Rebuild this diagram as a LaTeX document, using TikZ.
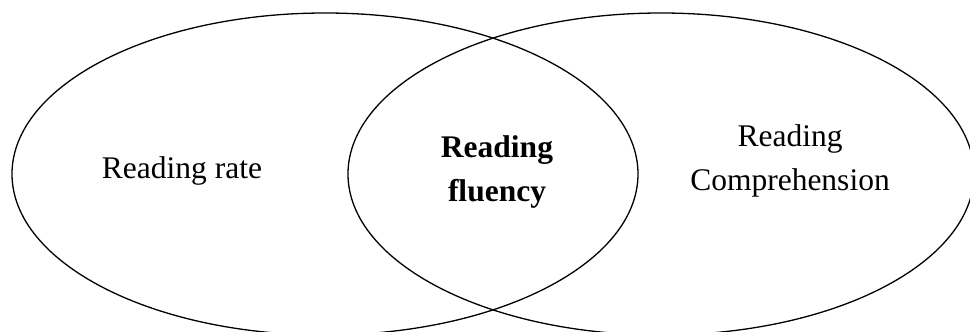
\documentclass[tikz,border=0pt]{standalone}
\usepackage{fontspec}
\setmainfont{Liberation Serif}
\usepackage{tikz}
\usetikzlibrary{positioning,shapes.geometric}

\tikzset{
  setcircle/.style={ellipse,draw=black,line width=1.3pt,inner sep=0pt,
    minimum width=626pt,minimum height=322pt},
  setlabel/.style={font=\fontsize{31.5}{44}\selectfont,align=center,inner sep=0pt}
}

\begin{document}
\begin{tikzpicture}[x=1pt,y=-1pt]
\useasboundingbox (0,0) rectangle (970,332);
\clip (0,0) rectangle (970,332);
% the two sets
\node[setcircle] (rate) at (325,174) {};
\node[setcircle] (comp) at (661,174) {};
% labels
\node[setlabel] (ratelabel) at (182,171) {Reading rate};
\node[setlabel] (fluency) at (497,172) {\textbf{Reading}\\\textbf{fluency}};
\node[setlabel] (complabel) at (790,161) {Reading\\Comprehension};
\end{tikzpicture}
\end{document}
